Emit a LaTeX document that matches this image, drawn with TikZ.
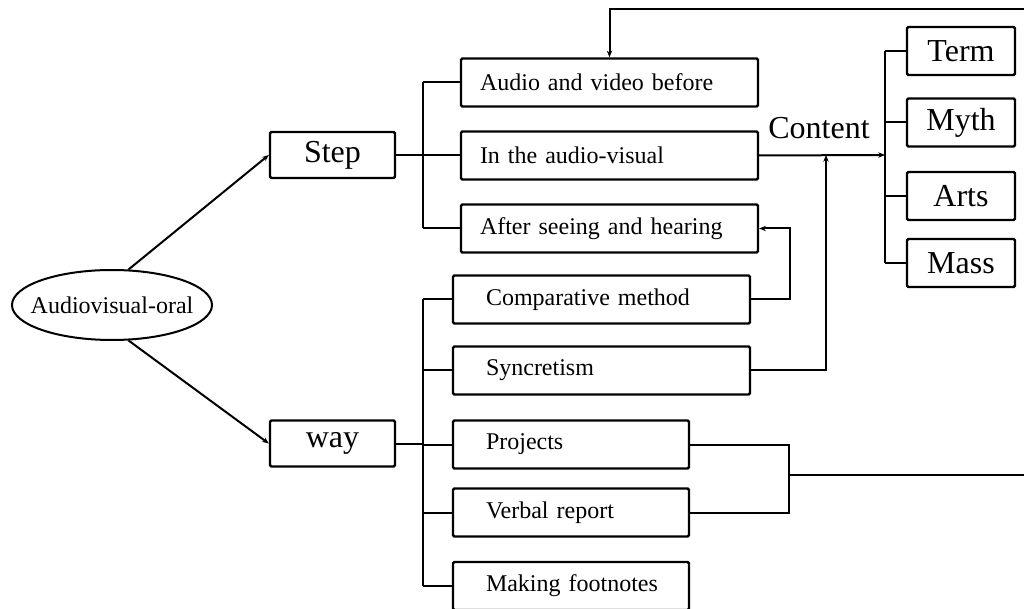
\documentclass[tikz,border=0pt]{standalone}
\usepackage{fontspec}
\setmainfont{Liberation Serif}
\usetikzlibrary{shapes.geometric,arrows.meta}

\tikzset{every picture/.style={line width=1.5pt}}
\tikzset{
  itembox/.style={draw, line width=1.8pt, rounded corners=1pt, minimum height=36pt, inner ysep=0pt, inner xsep=4.5pt, align=left, font=\fontsize{18}{20}\selectfont},
  stepitem/.style={itembox, text width=213.75pt, execute at begin node={\hspace*{9.75pt}}},
  wayitem/.style={itembox, text width=213.75pt, execute at begin node={\hspace*{20.25pt}}},
  wayshort/.style={itembox, text width=168pt, execute at begin node={\hspace*{20.25pt}}},
  headbox/.style={draw, line width=1.8pt, rounded corners=1pt, minimum width=93.75pt, minimum height=34.5pt, inner sep=0pt, font=\fontsize{24}{26}\selectfont},
  topicbox/.style={draw, line width=1.8pt, rounded corners=1pt, minimum width=81pt, minimum height=36pt, inner sep=0pt, font=\fontsize{24}{26}\selectfont},
  arrowline/.style={-{Stealth[length=5pt,width=4pt]}}
}

\begin{document}
\begin{tikzpicture}[x=0.75pt,y=0.75pt,yscale=-1,xscale=1]
\useasboundingbox (0,0) rectangle (1024,609);

%Shape: Ellipse
\node [draw, ellipse, minimum width=150pt, minimum height=52.5pt, inner xsep=-8.5pt, inner ysep=0pt, font=\fontsize{18}{20}\selectfont] (ell) at (112,305) {Audiovisual-oral};

%Shape: Rectangle
\node [headbox] (step) at (332.5,155) {Step};
\node [headbox] (way) at (332.5,443.5) {way};

\node [stepitem] (before) at (609.5,82.5) {Audio and video before};
\node [stepitem] (during) at (609.5,155.5) {In the audio-visual};
\node [stepitem] (after) at (609.5,228.5) {After seeing and hearing};

\node [wayitem] (compare) at (601.5,299.5) {Comparative method};
\node [wayitem] (sync) at (601.5,370.5) {Syncretism};
\node [wayshort] (proj) at (571,444.5) {Projects};
\node [wayshort] (verbal) at (571,512.5) {Verbal report};
\node [wayshort] (notes) at (571,586) {Making footnotes};

\node [topicbox] (term) at (961,51) {Term};
\node [topicbox] (myth) at (961,122.5) {Myth};
\node [topicbox] (arts) at (961,196) {Arts};
\node [topicbox] (mass) at (961,263) {Mass};

% Text Node
\node [inner sep=0.75pt, font=\fontsize{24}{26}\selectfont] (content) at (819,128) {Content};

%Coordinates
\coordinate (sbus) at (423,155);
\coordinate (wbus) at (423,443.5);
\coordinate (cmp) at (790,260);
\coordinate (cup) at (826,155);
\coordinate (tbus) at (885,155);
\coordinate (fbtop) at (1024,9);
\coordinate (pj) at (789,475);
\coordinate (rout) at (1024,475);

%Straight Lines
\draw [arrowline] (ell.65) -- (step.west);
\draw [arrowline] (ell.-65) -- (way.west);

\draw (step.east) -- (sbus);
\draw (sbus |- before.west) -- (sbus |- after.west);
\foreach \n in {before,during,after}
  \draw (sbus |- \n.west) -- (\n.west);

\draw (way.east) -- (wbus);
\draw (wbus |- compare.west) -- (wbus |- notes.west);
\foreach \n in {compare,sync,proj,verbal,notes}
  \draw (wbus |- \n.west) -- (\n.west);

\draw [arrowline] (compare.east) -- (compare.east -| cmp) -- (after.east -| cmp) -- (after.east);
\draw [arrowline] (sync.east) -| (cup);

\draw [arrowline] (during.east) -- (tbus);
\draw (tbus |- term.west) -- (tbus |- mass.west);
\foreach \n in {term,myth,arts,mass}
  \draw (tbus |- \n.west) -- (\n.west);

\draw [arrowline] (fbtop) -| (before.north);

\draw (proj.east) -| (pj);
\draw (verbal.east) -| (pj);
\draw (pj) -- (rout);

\end{tikzpicture}
\end{document}
